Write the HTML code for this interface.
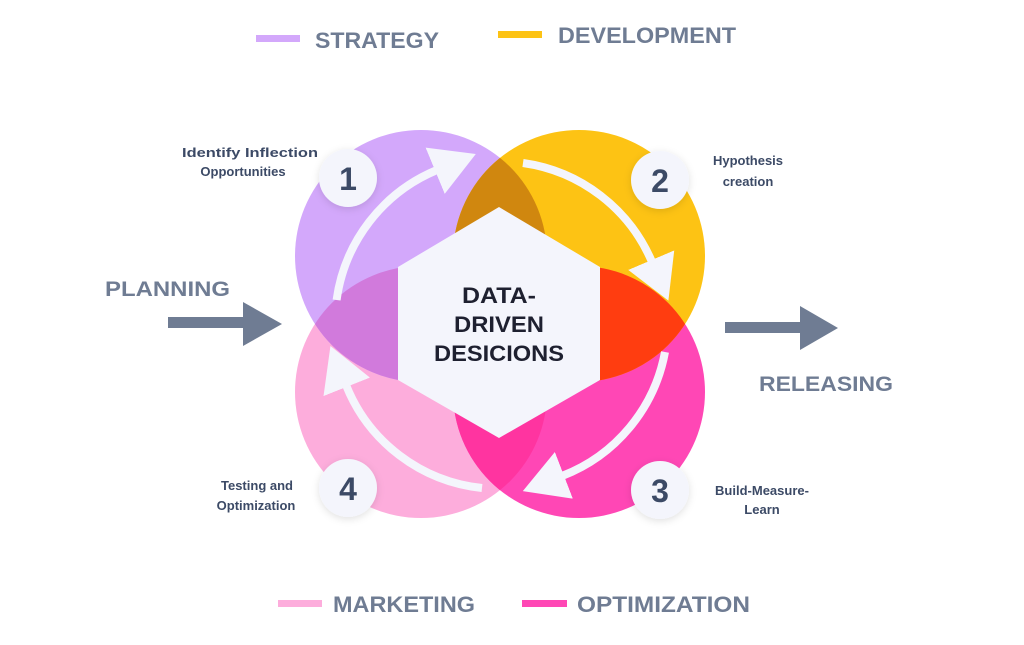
<!DOCTYPE html>
<html><head><meta charset="utf-8"><style>
html,body{margin:0;padding:0;background:#fff;width:1024px;height:645px;overflow:hidden}
svg{display:block}
text{font-family:"Liberation Sans",sans-serif;font-weight:bold}
</style></head><body>
<svg width="1024" height="645" viewBox="0 0 1024 645" xmlns="http://www.w3.org/2000/svg">
<defs>
<clipPath id="cP"><circle cx="421" cy="256" r="126"/></clipPath>
<clipPath id="cM"><circle cx="579" cy="392" r="126"/></clipPath>
<marker id="ah" markerUnits="userSpaceOnUse" markerWidth="60" markerHeight="60" refX="2" refY="25" orient="auto">
<path d="M0,0 L44,25 L0,50 z" fill="#F4F5FC"/>
</marker>
<filter id="sh" x="-50%" y="-50%" width="200%" height="200%"><feDropShadow dx="0" dy="2" stdDeviation="4" flood-color="#000" flood-opacity="0.12"/></filter>
</defs>

<rect x="256" y="35" width="44" height="7" fill="#D3A8FB"/>
<text x="315" y="48" font-size="22" fill="#6F7C93" textLength="124" lengthAdjust="spacingAndGlyphs">STRATEGY</text>
<rect x="498" y="31" width="44" height="7" fill="#FDC314"/>
<text x="558" y="43" font-size="22" fill="#6F7C93" textLength="178" lengthAdjust="spacingAndGlyphs">DEVELOPMENT</text>
<rect x="278" y="600" width="44" height="7" fill="#FDADDC"/>
<text x="333" y="612" font-size="22" fill="#6F7C93" textLength="142" lengthAdjust="spacingAndGlyphs">MARKETING</text>
<rect x="522" y="600" width="45" height="7" fill="#FF47B5"/>
<text x="577" y="612" font-size="22" fill="#6F7C93" textLength="173" lengthAdjust="spacingAndGlyphs">OPTIMIZATION</text>

<text x="105" y="296" font-size="21" fill="#6F7C93" textLength="125" lengthAdjust="spacingAndGlyphs">PLANNING</text>
<rect x="168" y="317" width="78" height="11" fill="#6F7C93"/>
<path d="M243,302 L282,324 L243,346 z" fill="#6F7C93"/>
<rect x="725" y="322" width="78" height="11" fill="#6F7C93"/>
<path d="M800,306 L838,328 L800,350 z" fill="#6F7C93"/>
<text x="759" y="391" font-size="21" fill="#6F7C93" textLength="134" lengthAdjust="spacingAndGlyphs">RELEASING</text>

<circle cx="421" cy="392" r="126" fill="#FDADDC"/>
<circle cx="579" cy="392" r="126" fill="#FF47B5"/>
<circle cx="421" cy="256" r="126" fill="#D3A8FB"/>
<circle cx="579" cy="256" r="126" fill="#FDC314"/>
<g clip-path="url(#cP)"><circle cx="579" cy="256" r="126" fill="#D0870F"/><circle cx="421" cy="392" r="126" fill="#D17ADC"/></g>
<g clip-path="url(#cM)"><circle cx="579" cy="256" r="126" fill="#FF3D10"/><circle cx="421" cy="392" r="126" fill="#FF34A0"/></g>

<polygon points="499,207 600,267 600,380 499,438 398,380 398,267" fill="#F4F5FC"/>
<text x="499" y="303" font-size="22" fill="#1E2030" text-anchor="middle" textLength="74" lengthAdjust="spacingAndGlyphs">DATA-</text>
<text x="499" y="332" font-size="22" fill="#1E2030" text-anchor="middle" textLength="90" lengthAdjust="spacingAndGlyphs">DRIVEN</text>
<text x="499" y="361" font-size="22" fill="#1E2030" text-anchor="middle" textLength="130" lengthAdjust="spacingAndGlyphs">DESICIONS</text>

<g fill="none" stroke="#F4F5FC" stroke-width="8" marker-end="url(#ah)">
<path d="M336.6,300 A165,165 0 0 1 437,170"/>
<path d="M523,163 A165,165 0 0 1 652,262"/>
<path d="M665,352 A165,165 0 0 1 562,476"/>
<path d="M482,488 A165,165 0 0 1 346,385"/>
</g>

<g filter="url(#sh)" fill="#F4F5FC">
<circle cx="348" cy="178" r="29"/>
<circle cx="660" cy="180" r="29"/>
<circle cx="660" cy="490" r="29"/>
<circle cx="348" cy="488" r="29"/>
</g>
<g font-size="32" fill="#3C4A66" text-anchor="middle">
<text x="348" y="190">1</text>
<text x="660" y="192">2</text>
<text x="660" y="502">3</text>
<text x="348" y="500">4</text>
</g>

<g font-size="13" fill="#3C4A66" text-anchor="middle">
<text x="250" y="157" textLength="136" lengthAdjust="spacingAndGlyphs">Identify Inflection</text>
<text x="243" y="176">Opportunities</text>
<text x="748" y="165">Hypothesis</text>
<text x="748" y="186">creation</text>
<text x="257" y="490">Testing and</text>
<text x="256" y="510">Optimization</text>
<text x="762" y="495">Build-Measure-</text>
<text x="762" y="514">Learn</text>
</g>
</svg>
</body></html>
